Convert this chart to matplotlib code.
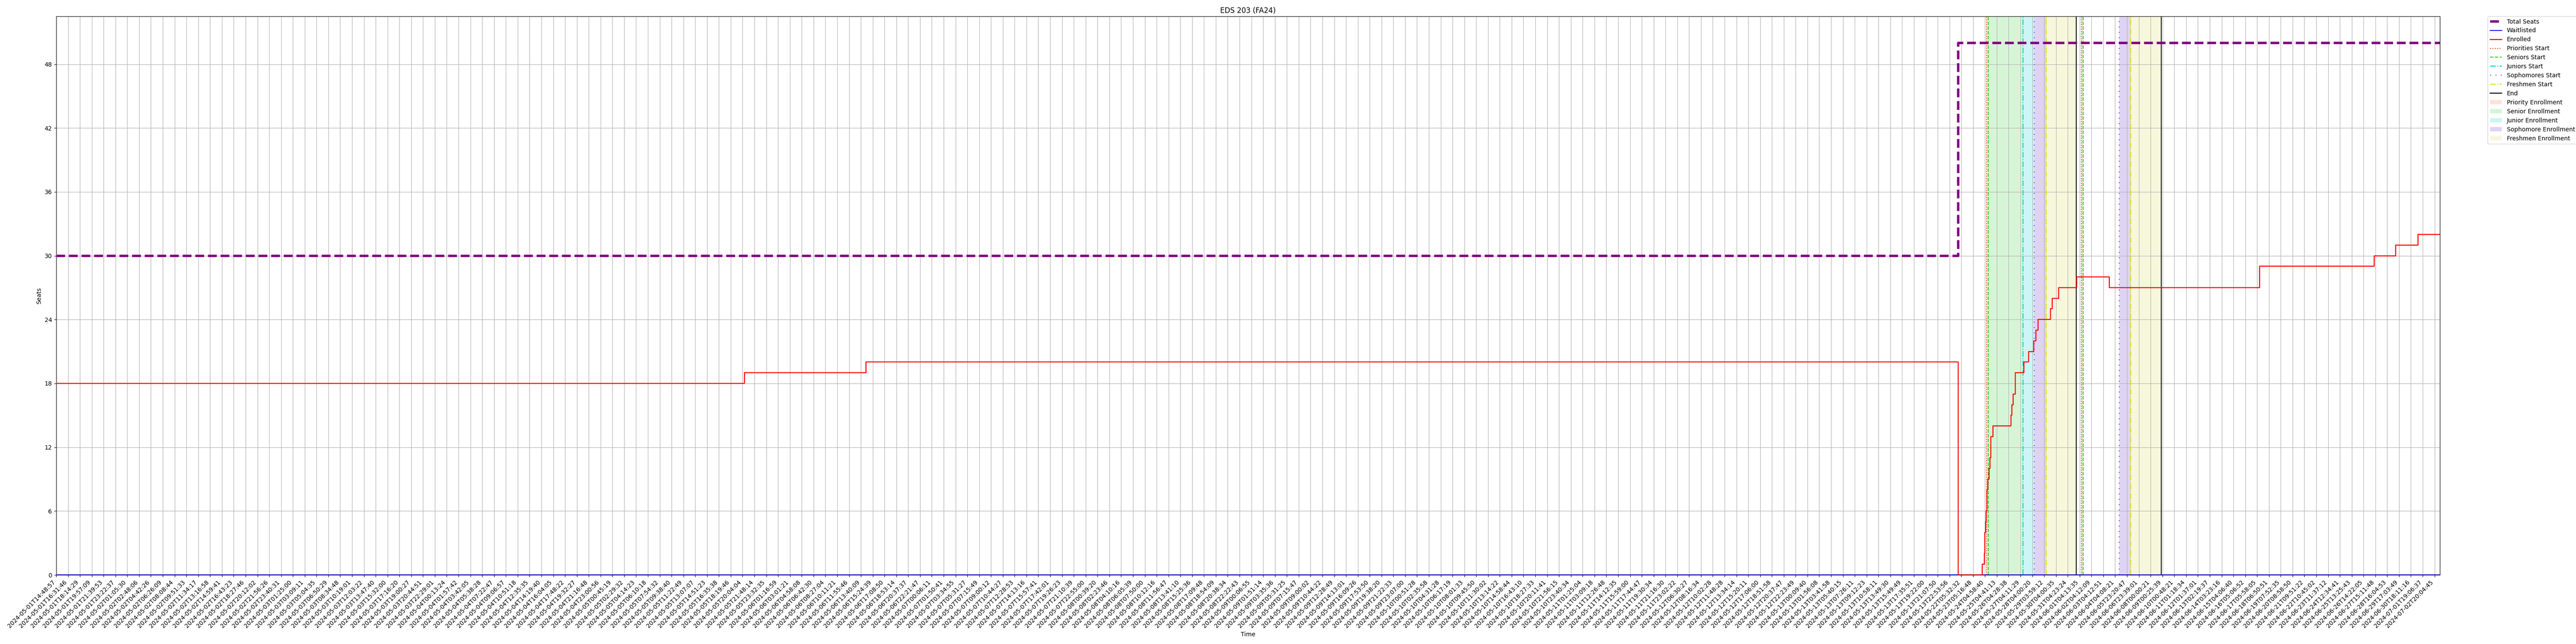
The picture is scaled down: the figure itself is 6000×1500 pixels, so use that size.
import matplotlib
matplotlib.use("Agg")
import matplotlib.pyplot as plt
from matplotlib.patches import Patch
from matplotlib.lines import Line2D

title = "EDS 203 (FA24)"

tick_labels = [
    "2024-05-01T14:48:57", "2024-05-01T16:31:46", "2024-05-01T18:14:29", "2024-05-01T19:57:09",
    "2024-05-01T21:39:53", "2024-05-01T23:22:37", "2024-05-02T01:05:30", "2024-05-02T02:48:06",
    "2024-05-02T04:42:26", "2024-05-02T06:26:09", "2024-05-02T08:08:44", "2024-05-02T09:51:33",
    "2024-05-02T11:34:17", "2024-05-02T13:16:58", "2024-05-02T14:59:41", "2024-05-02T16:43:23",
    "2024-05-02T18:27:46", "2024-05-02T20:12:02", "2024-05-02T21:56:26", "2024-05-02T23:40:31",
    "2024-05-03T01:25:00", "2024-05-03T03:09:11", "2024-05-03T05:04:35", "2024-05-03T06:50:29",
    "2024-05-03T08:34:48", "2024-05-03T10:19:01", "2024-05-03T12:03:22", "2024-05-03T13:47:40",
    "2024-05-03T15:32:00", "2024-05-03T17:16:20", "2024-05-03T19:00:27", "2024-05-03T20:44:51",
    "2024-05-03T22:29:01", "2024-05-04T00:13:24", "2024-05-04T01:57:42", "2024-05-04T03:42:05",
    "2024-05-04T05:38:28", "2024-05-04T07:22:47", "2024-05-04T09:06:57", "2024-05-04T10:51:18",
    "2024-05-04T12:35:35", "2024-05-04T14:19:40", "2024-05-04T16:04:05", "2024-05-04T17:48:22",
    "2024-05-04T19:32:27", "2024-05-04T21:16:48", "2024-05-04T23:00:56", "2024-05-05T00:45:19",
    "2024-05-05T02:29:32", "2024-05-05T04:14:23", "2024-05-05T06:10:18", "2024-05-05T07:54:32",
    "2024-05-05T09:38:40", "2024-05-05T11:22:49", "2024-05-05T13:07:07", "2024-05-05T14:51:23",
    "2024-05-05T16:35:38", "2024-05-05T18:19:46", "2024-05-05T20:04:04", "2024-05-05T21:48:14",
    "2024-05-05T23:32:35", "2024-05-06T01:16:59", "2024-05-06T03:01:21", "2024-05-06T04:58:08",
    "2024-05-06T06:42:30", "2024-05-06T08:27:04", "2024-05-06T10:11:21", "2024-05-06T11:55:46",
    "2024-05-06T13:40:09", "2024-05-06T15:24:39", "2024-05-06T17:08:50", "2024-05-06T18:53:14",
    "2024-05-06T20:37:37", "2024-05-06T22:21:47", "2024-05-07T00:06:11", "2024-05-07T01:50:41",
    "2024-05-07T03:34:55", "2024-05-07T05:31:27", "2024-05-07T07:15:49", "2024-05-07T09:00:12",
    "2024-05-07T10:44:27", "2024-05-07T12:28:53", "2024-05-07T14:13:16", "2024-05-07T15:57:41",
    "2024-05-07T17:42:01", "2024-05-07T19:26:23", "2024-05-07T21:10:39", "2024-05-07T22:55:00",
    "2024-05-08T00:39:20", "2024-05-08T02:23:46", "2024-05-08T04:10:16", "2024-05-08T06:05:39",
    "2024-05-08T07:50:00", "2024-05-08T10:12:16", "2024-05-08T11:56:47", "2024-05-08T13:41:10",
    "2024-05-08T15:25:36", "2024-05-08T17:09:48", "2024-05-08T18:54:09", "2024-05-08T20:38:34",
    "2024-05-08T22:22:43", "2024-05-09T00:06:55", "2024-05-09T01:51:14", "2024-05-09T03:35:36",
    "2024-05-09T05:31:25", "2024-05-09T07:15:47", "2024-05-09T09:00:02", "2024-05-09T10:44:22",
    "2024-05-09T12:28:49", "2024-05-09T14:13:01", "2024-05-09T16:09:26", "2024-05-09T17:53:50",
    "2024-05-09T19:38:20", "2024-05-09T21:22:33", "2024-05-09T23:07:00", "2024-05-10T00:51:28",
    "2024-05-10T02:35:58", "2024-05-10T04:31:28", "2024-05-10T06:17:19", "2024-05-10T08:01:33",
    "2024-05-10T09:45:50", "2024-05-10T11:30:02", "2024-05-10T13:14:22", "2024-05-10T14:58:44",
    "2024-05-10T16:43:10", "2024-05-10T18:27:33", "2024-05-10T20:11:41", "2024-05-10T21:56:15",
    "2024-05-10T23:40:34", "2024-05-11T01:25:04", "2024-05-11T03:09:18", "2024-05-11T12:26:48",
    "2024-05-11T14:12:35", "2024-05-11T15:59:00", "2024-05-11T17:44:47", "2024-05-11T19:30:34",
    "2024-05-11T21:16:30", "2024-05-11T23:02:22", "2024-05-12T06:30:27", "2024-05-12T08:16:34",
    "2024-05-12T10:02:28", "2024-05-12T11:48:28", "2024-05-12T13:34:14", "2024-05-12T15:20:11",
    "2024-05-12T17:06:00", "2024-05-12T18:51:58", "2024-05-12T20:37:47", "2024-05-12T22:23:49",
    "2024-05-13T00:09:40", "2024-05-13T01:56:08", "2024-05-13T03:41:58", "2024-05-13T05:40:15",
    "2024-05-13T07:26:11", "2024-05-13T09:12:23", "2024-05-13T10:58:11", "2024-05-13T13:49:30",
    "2024-05-13T15:49:49", "2024-05-13T17:35:51", "2024-05-13T19:22:00", "2024-05-13T21:07:50",
    "2024-05-13T22:53:56", "2024-05-22T05:32:32", "2024-05-23T05:16:48", "2024-05-24T04:58:40",
    "2024-05-25T04:41:13", "2024-05-26T04:28:38", "2024-05-27T04:11:29", "2024-05-28T04:00:20",
    "2024-05-29T03:59:12", "2024-05-30T04:00:35", "2024-05-31T04:23:24", "2024-06-01T04:13:35",
    "2024-06-02T04:12:09", "2024-06-03T04:12:51", "2024-06-04T04:08:21", "2024-06-05T23:20:47",
    "2024-06-06T23:39:01", "2024-06-08T00:00:21", "2024-06-09T00:25:39", "2024-06-10T00:48:21",
    "2024-06-11T01:18:34", "2024-06-12T01:37:01", "2024-06-13T02:19:37", "2024-06-14T03:23:16",
    "2024-06-15T04:06:40", "2024-06-16T05:06:52", "2024-06-17T05:58:05", "2024-06-18T06:50:51",
    "2024-06-19T07:52:35", "2024-06-20T08:58:50", "2024-06-21T09:51:22", "2024-06-22T10:45:02",
    "2024-06-23T11:37:12", "2024-06-24T12:34:41", "2024-06-25T13:25:43", "2024-06-26T14:22:05",
    "2024-06-27T15:11:48", "2024-06-28T16:04:53", "2024-06-29T17:03:49", "2024-06-30T18:11:16",
    "2024-07-01T19:06:37", "2024-07-02T20:04:45",
]

# sample index of the last data point (in tick units; one tick = one label step)
x_end = 201.45

# Total seats (step changes): position in tick units, value
seats_x = [0, 160.73, x_end]
seats_y = [30, 50, 50]

# Waitlisted
wait_x = [0, x_end]
wait_y = [0, 0]

# Enrolled (step changes)
enr_x = [0, 58.15, 68.42, 160.73, 162.77, 162.94, 163.00, 163.05, 163.11, 163.17,
         163.26, 163.36, 163.43, 163.50, 163.66, 165.19, 165.26, 165.37, 165.55,
         166.28, 166.68, 167.14, 167.32, 167.49, 168.53, 168.67, 169.22, 170.75,
         173.52, 186.2, 195.9, 197.7, 199.6, x_end]
enr_y = [18, 19, 20, 0, 1, 2, 4, 5, 6, 8,
         9, 10, 11, 13, 14, 15, 16, 17, 19,
         20, 21, 22, 23, 24, 25, 26, 27, 28,
         27, 29, 30, 31, 32, 32]

# Enrollment period markers (tick units)
priorities_start = [163.13, 171.17]
seniors_start = [163.29, 171.30]
juniors_start = [166.21]
sophomores_start = [167.16, 174.34]
freshmen_start = [168.16, 175.31]
end_marks = [170.71, 177.89]

# Shaded periods (start, end)
priority_spans = [(163.13, 163.29), (171.17, 171.30)]
senior_spans = [(163.29, 166.21)]
junior_spans = [(166.21, 167.16)]
sophomore_spans = [(167.16, 168.16), (174.34, 175.31)]
freshmen_spans = [(168.16, 170.71), (175.31, 177.89)]

yticks = [0, 6, 12, 18, 24, 30, 36, 42, 48]

c_pri, c_sen, c_jun, c_sop, c_fre = "orangered", "limegreen", "darkturquoise", "blueviolet", "#e0e000"
s_pri, s_sen, s_jun, s_sop, s_fre = "lightsalmon", "limegreen", "darkturquoise", "mediumpurple", "#e5e58a"

fig = plt.figure(figsize=(60, 15), dpi=100)
ax = fig.add_axes([0.02183, 0.10733, 0.92534, 0.86734])

for a, b in priority_spans:
    ax.axvspan(a, b, color=s_pri, alpha=0.3, lw=0)
for a, b in senior_spans:
    ax.axvspan(a, b, color=s_sen, alpha=0.2, lw=0)
for a, b in junior_spans:
    ax.axvspan(a, b, color=s_jun, alpha=0.2, lw=0)
for a, b in sophomore_spans:
    ax.axvspan(a, b, color=s_sop, alpha=0.3, lw=0)
for a, b in freshmen_spans:
    ax.axvspan(a, b, color=s_fre, alpha=0.3, lw=0)

ax.plot(seats_x, seats_y, drawstyle="steps-post", color="purple", lw=4, ls="--", zorder=3)
ax.plot(wait_x, wait_y, drawstyle="steps-post", color="blue", lw=1.5, zorder=3)
ax.plot(enr_x, enr_y, drawstyle="steps-post", color="red", lw=1.7, zorder=3)

for v in priorities_start:
    ax.axvline(v, color=c_pri, ls=":", lw=1.5)
for v in seniors_start:
    ax.axvline(v, color=c_sen, ls="--", lw=1.5)
for v in juniors_start:
    ax.axvline(v, color=c_jun, ls="-.", lw=1.5)
for v in sophomores_start:
    ax.axvline(v, color=c_sop, ls=(0, (1, 5)), lw=1.5)
for v in freshmen_start:
    ax.axvline(v, color=c_fre, ls="-.", lw=1.5)
for v in end_marks:
    ax.axvline(v, color="black", ls="-", lw=1.5)

ax.set_xlim(0, x_end)
ax.set_ylim(0, 52.5)
ax.set_xticks(range(len(tick_labels)))
ax.set_xticklabels(tick_labels, rotation=45, ha="right", fontsize=10)
ax.set_yticks(yticks)
ax.grid(True)
ax.set_title(title, fontsize=12)
ax.set_xlabel("Time")
ax.set_ylabel("Seats")

handles = [
    Line2D([], [], color="purple", lw=4, ls="--", label="Total Seats"),
    Line2D([], [], color="blue", lw=1.5, label="Waitlisted"),
    Line2D([], [], color="red", lw=1.7, label="Enrolled"),
    Line2D([], [], color=c_pri, ls=":", lw=1.5, label="Priorities Start"),
    Line2D([], [], color=c_sen, ls="--", lw=1.5, label="Seniors Start"),
    Line2D([], [], color=c_jun, ls="-.", lw=1.5, label="Juniors Start"),
    Line2D([], [], color=c_sop, ls=(0, (1, 5)), lw=1.5, label="Sophomores Start"),
    Line2D([], [], color=c_fre, ls="-.", lw=1.5, label="Freshmen Start"),
    Line2D([], [], color="black", lw=1.5, label="End"),
    Patch(facecolor=s_pri, alpha=0.3, label="Priority Enrollment"),
    Patch(facecolor=s_sen, alpha=0.2, label="Senior Enrollment"),
    Patch(facecolor=s_jun, alpha=0.2, label="Junior Enrollment"),
    Patch(facecolor=s_sop, alpha=0.3, label="Sophomore Enrollment"),
    Patch(facecolor=s_fre, alpha=0.3, label="Freshmen Enrollment"),
]
ax.legend(handles=handles, loc="upper left", bbox_to_anchor=(1.02, 1), borderaxespad=0, fontsize=10)

fig.savefig("out.png", dpi=100)
